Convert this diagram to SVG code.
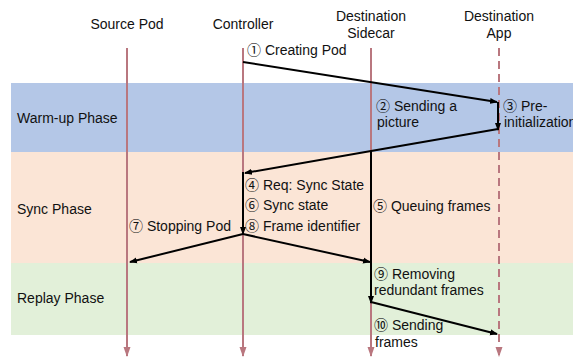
<svg xmlns="http://www.w3.org/2000/svg" width="573" height="360" viewBox="0 0 573 360">
<style>
text{font-family:"Liberation Sans",Arial,"DejaVu Sans",sans-serif;font-size:14px;fill:#111}
.n{font-family:"Noto Sans CJK JP","Noto Sans CJK SC","DejaVu Sans",sans-serif;font-size:14px}
.c{text-anchor:middle}
.life{stroke:#b9777f;stroke-width:2;fill:none}
.msg{stroke:#000;stroke-width:2;fill:none}
</style>
<defs>
<marker id="ah" markerWidth="8" markerHeight="8" refX="7" refY="4" orient="auto" markerUnits="userSpaceOnUse"><path d="M0,1 L8,4 L0,7 Z" fill="#000"/></marker>
<marker id="lh" markerWidth="10" markerHeight="8" refX="9" refY="4" orient="auto" markerUnits="userSpaceOnUse"><path d="M0,0.5 L10,4 L0,7.5 Z" fill="#b9777f"/></marker>
</defs>
<g id="phases">
<rect x="11" y="83" width="562" height="69" fill="#b4c7e7"/>
<rect x="11" y="152" width="562" height="111" fill="#fbe5d6"/>
<rect x="11" y="263" width="562" height="72" fill="#e2f0d9"/>
<text x="17" y="123">Warm-up Phase</text>
<text x="17" y="214">Sync Phase</text>
<text x="17" y="303">Replay Phase</text>
</g>
<g id="source-pod"><text class="c" x="127" y="29">Source Pod</text><line class="life" x1="127" y1="48" x2="127" y2="356" marker-end="url(#lh)"/></g>
<g id="controller"><text class="c" x="243" y="29">Controller</text><line class="life" x1="243" y1="48" x2="243" y2="356" marker-end="url(#lh)"/></g>
<g id="sidecar"><text class="c" x="371" y="21">Destination</text><text class="c" x="371" y="38">Sidecar</text><line class="life" x1="371" y1="48" x2="371" y2="356" marker-end="url(#lh)"/></g>
<g id="app"><text class="c" x="499" y="21">Destination</text><text class="c" x="499" y="38">App</text><line class="life" x1="499" y1="48" x2="499" y2="356" stroke-dasharray="8,5" marker-end="url(#lh)"/></g>
<g id="connectors">
<line class="msg" x1="243" y1="62" x2="497" y2="102" marker-end="url(#ah)"/>
<line class="msg" x1="498" y1="102" x2="498" y2="130" marker-end="url(#ah)"/>
<polyline class="msg" points="498,129 371,151 245,173" marker-end="url(#ah)"/>
<line class="msg" x1="243" y1="172" x2="243" y2="234" marker-end="url(#ah)"/>
<line class="msg" x1="371" y1="151" x2="371" y2="262"/>
<line class="msg" x1="243" y1="234" x2="130" y2="262" marker-end="url(#ah)"/>
<line class="msg" x1="243" y1="234" x2="370" y2="262" marker-end="url(#ah)"/>
<line class="msg" x1="371" y1="262" x2="371" y2="303" marker-end="url(#ah)"/>
<line class="msg" x1="371" y1="302" x2="497" y2="334" marker-end="url(#ah)"/>
</g>
<g id="labels">
<text x="247" y="55"><tspan class="n">①</tspan> Creating Pod</text>
<text x="376" y="111"><tspan class="n">②</tspan> Sending a</text>
<text x="377" y="127">picture</text>
<text x="503" y="111"><tspan class="n">③</tspan> Pre-</text>
<text x="504" y="127">initialization</text>
<text x="245" y="190"><tspan class="n">④</tspan> Req: Sync State</text>
<text x="245" y="210"><tspan class="n">⑥</tspan> Sync state</text>
<text x="245" y="231"><tspan class="n">⑧</tspan> Frame identifier</text>
<text x="373" y="211"><tspan class="n">⑤</tspan> Queuing frames</text>
<text x="129" y="231"><tspan class="n">⑦</tspan> Stopping Pod</text>
<text x="374" y="279"><tspan class="n">⑨</tspan> Removing</text>
<text x="374" y="295">redundant frames</text>
<text x="374" y="330"><tspan class="n">⑩</tspan> Sending</text>
<text x="375" y="347">frames</text>
</g>
</svg>
